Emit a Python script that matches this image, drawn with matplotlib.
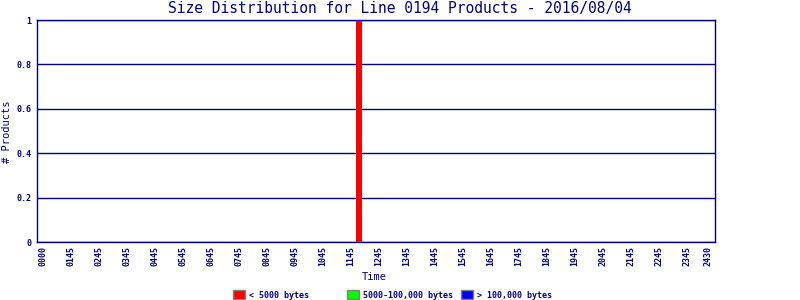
import matplotlib
matplotlib.use('Agg')
import matplotlib.pyplot as plt
from matplotlib.patches import Rectangle

# data (time in hours, counts per size class)
tick_pos = [0.75, 1.75, 2.75, 3.75, 4.75, 5.75, 6.75, 7.75, 8.75, 9.75, 10.75,
            11.75, 12.75, 13.75, 14.75, 15.75, 16.75, 17.75, 18.75, 19.75,
            20.75, 21.75, 22.75, 23.75, 24.5]
tick_labels = ['0000', '0145', '0245', '0345', '0445', '0545', '0645', '0745',
               '0845', '0945', '1045', '1145', '1245', '1345', '1445', '1545',
               '1645', '1745', '1845', '1945', '2045', '2145', '2245', '2345',
               '2430']
bar_times = [12.04]
small = [1]
medium = [0]
large = [0]

navy = '#000080'
mono = 'DejaVu Sans Mono'

fig = plt.figure(figsize=(8, 3), dpi=100)
ax = fig.add_axes([37 / 800, 1 - 242 / 300, 678 / 800, 222 / 300])

w = 0.21
ax.bar(bar_times, small, width=w, color='#ff0000', zorder=3)
ax.bar(bar_times, medium, width=w, bottom=small, color='#00ff00', zorder=3)
ax.bar(bar_times, large, width=w, bottom=[s + m for s, m in zip(small, medium)],
       color='#0000ff', edgecolor='#0000ff', linewidth=1.2, zorder=4)

ax.set_xlim(0.536, 24.75)
ax.set_ylim(0, 1)
ax.set_xticks(tick_pos)
ax.set_xticklabels(tick_labels, rotation=90, family=mono, fontsize=6,
                   color=navy, fontweight='bold')
ax.set_yticks([0, 0.2, 0.4, 0.6, 0.8, 1])
ax.set_yticklabels(['0', '0.2', '0.4', '0.6', '0.8', '1'], family=mono,
                   fontsize=6, color=navy, fontweight='bold')
ax.tick_params(axis='x', length=0, pad=3)
ax.tick_params(axis='y', length=0, pad=4)
ax.yaxis.grid(True, color=navy, linewidth=1, zorder=1)
ax.set_axisbelow(True)
for s in ax.spines.values():
    s.set_color(navy)
    s.set_linewidth(1)

fig.text(0.5, 1 - 9 / 300, 'Size Distribution for Line 0194 Products - 2016/08/04',
         ha='center', va='center', family=mono, fontsize=10.5, color=navy)
fig.text(374 / 800, 1 - 277 / 300, 'Time', ha='center', va='center',
         family=mono, fontsize=7.5, color=navy)
fig.text(7 / 800, 1 - 132 / 300, '# Products', ha='center', va='center',
         rotation=90, family=mono, fontsize=7.5, color=navy)

# legend along the bottom
legend_items = [('#ff0000', '< 5000 bytes', 233),
                ('#00ff00', '5000-100,000 bytes', 347),
                ('#0000ff', '> 100,000 bytes', 461)]
for col, label, px in legend_items:
    fig.patches.append(Rectangle((px / 800, 1 - 299 / 300), 12 / 800, 9 / 300,
                                 transform=fig.transFigure, facecolor=col,
                                 edgecolor='#808080', linewidth=1))
    fig.text((px + 16) / 800, 1 - 295 / 300, label, ha='left', va='center',
             family=mono, fontsize=6, color=navy, fontweight='bold')

fig.savefig('out.png', dpi=100)
